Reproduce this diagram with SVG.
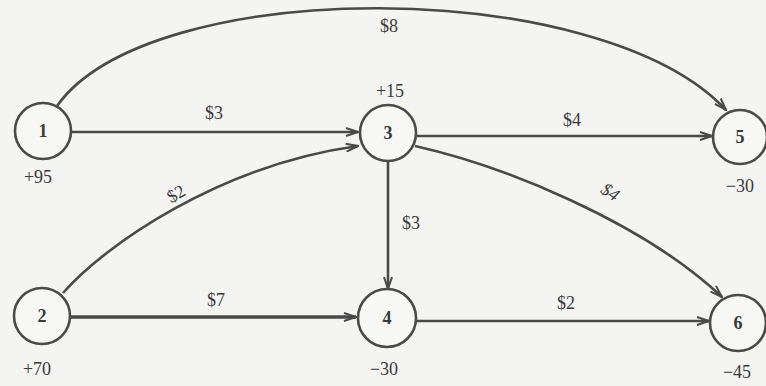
<svg xmlns="http://www.w3.org/2000/svg" width="766" height="386" viewBox="0 0 766 386">
<defs>
<marker id="arr" viewBox="0 0 14 10" refX="13" refY="5" markerWidth="14" markerHeight="10" markerUnits="userSpaceOnUse" orient="auto">
<path d="M1,1 L13,5 L1,9" fill="none" stroke="#4a4a4a" stroke-width="2"/>
<path d="M5,3.6 L13,5 L5,6.4 Z" fill="#4a4a4a"/>
</marker>
</defs>
<style>
.bg{fill:#f4f4f2}
.node circle{fill:#f7f7f5;stroke:#4a4a4a;stroke-width:2.6}
.node text{font-family:"Liberation Serif",serif;font-size:18px;font-weight:bold;fill:#3a3a3a;text-anchor:middle}
.edge{fill:none;stroke:#4a4a4a;stroke-width:2.6;marker-end:url(#arr)}
.lbl{font-family:"Liberation Serif",serif;font-size:18px;fill:#3a3a3a;text-anchor:middle}
</style>
<rect class="bg" x="0" y="0" width="766" height="386"/>
<g id="connectors">
<path class="edge" d="M57,106 C150,-25 600,-25 726,110"/>
<path class="edge" d="M72,132 L358,132"/>
<path class="edge" d="M63,293 C105,245 220,165 358,146"/>
<path class="edge" d="M417,136 L712,136"/>
<path class="edge" d="M415,146 C500,165 640,220 722,297"/>
<path class="edge" d="M388,162 L388,289"/>
<path class="edge" d="M71,317 L356,317" style="stroke-width:3.4"/>
<path class="edge" d="M417,321 L709,321"/>
</g>
<g id="edge-labels">
<text class="lbl" x="389" y="32">$8</text>
<text class="lbl" x="214" y="119">$3</text>
<text class="lbl" x="572" y="126">$4</text>
<text class="lbl" transform="translate(179,199) rotate(-30)">$2</text>
<text class="lbl" transform="translate(607,197) rotate(33)" font-style="italic">$4</text>
<text class="lbl" x="411" y="229">$3</text>
<text class="lbl" x="216" y="306">$7</text>
<text class="lbl" x="566" y="309">$2</text>
</g>
<g id="node1" class="node"><circle cx="43" cy="131" r="28"/><text x="43" y="137">1</text><text x="38" y="183" style="font-weight:normal">+95</text></g>
<g id="node2" class="node"><circle cx="42" cy="316" r="28"/><text x="42" y="322">2</text><text x="37" y="375" style="font-weight:normal">+70</text></g>
<g id="node3" class="node"><circle cx="388" cy="133" r="28"/><text x="388" y="139">3</text><text x="390" y="97" style="font-weight:normal">+15</text></g>
<g id="node4" class="node"><circle cx="387" cy="318" r="29"/><text x="387" y="324">4</text><text x="384" y="375" style="font-weight:normal">−30</text></g>
<g id="node5" class="node"><circle cx="740" cy="137" r="27"/><text x="740" y="143">5</text><text x="740" y="192" style="font-weight:normal">−30</text></g>
<g id="node6" class="node"><circle cx="738" cy="323" r="28"/><text x="738" y="329">6</text><text x="737" y="378" style="font-weight:normal">−45</text></g>
</svg>
